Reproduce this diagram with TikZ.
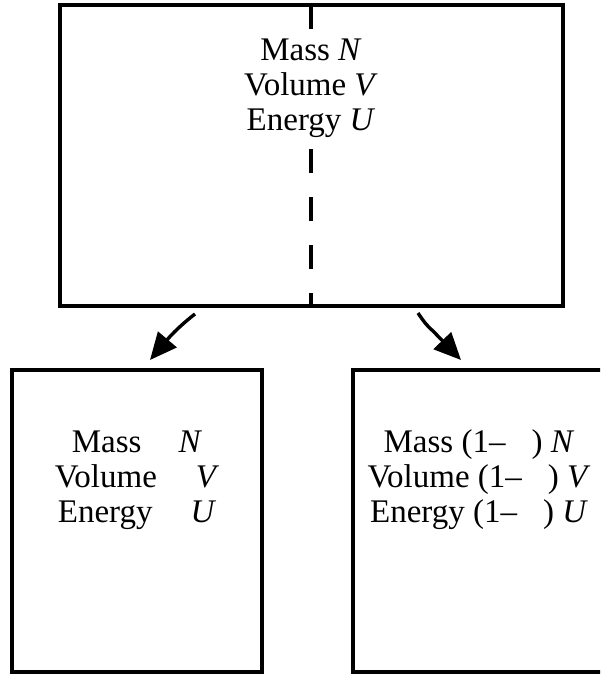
\documentclass[tikz,border=0pt]{standalone}
\usepackage{fontspec}
\setmainfont{Liberation Serif}
\usetikzlibrary{arrows.meta}
\tikzset{
  box/.style={draw=black, line width=3.4pt},
  divider/.style={draw=black, line width=3.4pt, dash pattern=on 24pt off 24pt},
  lbl/.style={align=center, inner sep=2pt, font=\fontsize{33}{35}\selectfont},
  splitarrow/.style={draw=black, line width=3.4pt, -{Triangle[length=27pt,width=24pt]}},
}
\begin{document}
\begin{tikzpicture}[x=1pt,y=-1pt]
\useasboundingbox (0,0) rectangle (600,674);
\clip (0,0) rectangle (600,674);
% top box
\draw[box] (60,5) rectangle (563,306);
\coordinate (dtop) at (311,5);
\coordinate (dbot) at (311,306);
\draw[divider] (dtop) -- (dbot);
\fill[white] (285,30) rectangle (337,146);
\node[lbl] (toptext) at (311,88) {Mass \textit{N}\\Volume \textit{V}\\Energy \textit{U}};
% bottom boxes
\draw[box] (12,370) rectangle (262,672);
\draw[box] (353,370) rectangle (608,672);
\node[lbl] (lefttext) at (137,480) {Mass\hspace{37pt}\textit{N}\\Volume\hspace{39pt}\textit{V}\\Energy\hspace{38pt}\textit{U}};
\node[lbl] (righttext) at (479,480) {Mass (1–\hspace{26pt}) \textit{N}\\Volume (1–\hspace{26pt}) \textit{V}\\Energy (1–\hspace{26pt}) \textit{U}};
% arrows
\coordinate (la) at (195,314);
\coordinate (lt) at (150,360);
\coordinate (ra) at (418,313);
\coordinate (rt) at (461,360);
\draw[splitarrow] (la) .. controls (182,324) and (172,334) .. (lt);
\draw[splitarrow] (ra) .. controls (422,319) and (426,325) .. (433,331) -- (rt);
\end{tikzpicture}
\end{document}
